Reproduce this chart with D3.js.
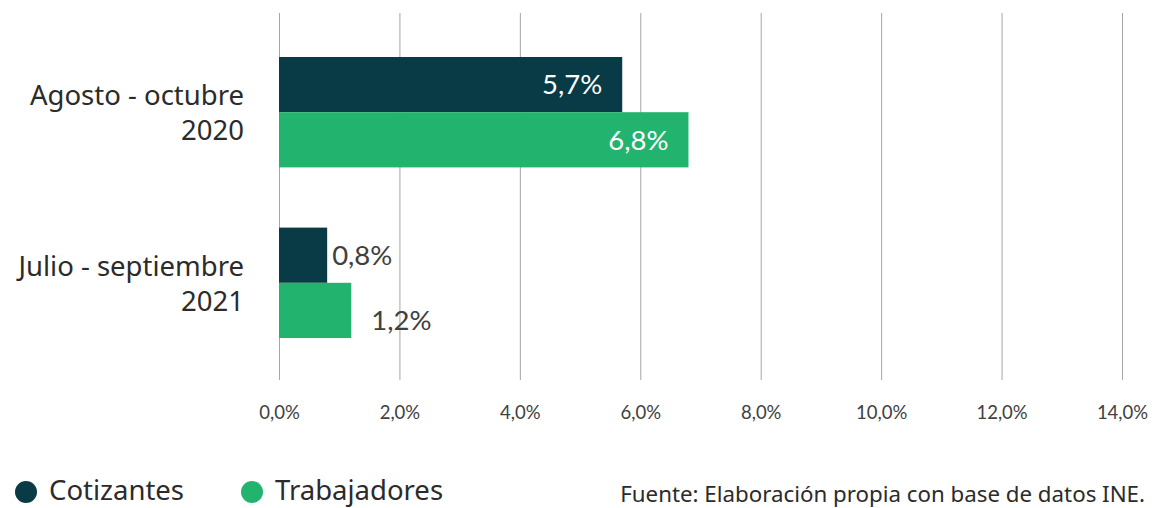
<!DOCTYPE html>
<html>
<head>
<meta charset="utf-8">
<script src="https://cdn.jsdelivr.net/npm/d3@7"></script>
<style>
  body { margin: 0; background: #fff; }
  svg { display: block; }
</style>
</head>
<body>
<div id="chart"></div>
<script>
const periods = [["Agosto - octubre", "2020"], ["Julio - septiembre", "2021"]];
const seriesNames = ["Cotizantes", "Trabajadores"];
const cotizantes = [5.7, 0.8];
const trabajadores = [6.8, 1.2];
const xTicks = [0, 2, 4, 6, 8, 10, 12, 14];
const colors = ["#083B45", "#22B46E"];

const width = 1155, height = 508;
const svg = d3.select("#chart").append("svg")
    .attr("width", width).attr("height", height);

const x = d3.scaleLinear().domain([0, 14]).range([279, 1122]);
const yGroup = d3.scaleBand().domain(d3.range(periods.length)).range([57, 338]).paddingInner(60 / 170).paddingOuter(0);
const ySub = d3.scaleBand().domain([0, 1]).range([0, yGroup.bandwidth()]);

const fmt = v => d3.format(".1f")(v).replace(".", ",") + "%";
const sans = "'Noto Sans', sans-serif";

// grid
svg.append("g").selectAll("line").data(xTicks).enter().append("line")
    .attr("x1", d => x(d) + 0.5).attr("x2", d => x(d) + 0.5)
    .attr("y1", 13).attr("y2", 380)
    .attr("stroke", "#a6a6a6").attr("stroke-width", 1);

// tick labels
const xAxis = d3.axisBottom(x).tickValues(xTicks).tickFormat(fmt).tickSize(0).tickPadding(0);
const ax = svg.append("g").attr("transform", "translate(0,406)").call(xAxis);
ax.select(".domain").remove();
ax.selectAll("text").attr("font-family", "Lato, sans-serif").attr("font-size", 18.5)
    .attr("fill", "#404040").attr("dy", "0.71em");

const series = [cotizantes, trabajadores];

series.forEach((vals, s) => {
    const g = svg.append("g");
    g.selectAll("rect").data(vals).enter().append("rect")
        .attr("x", x(0))
        .attr("y", (d, i) => yGroup(i) + ySub(s))
        .attr("width", d => x(d) - x(0))
        .attr("height", ySub.bandwidth())
        .attr("fill", colors[s]);

    g.selectAll("text").data(vals).enter().append("text")
        .attr("font-family", "Lato, sans-serif").attr("font-size", 27.5)
        .attr("x", (d, i) => i === 0 ? x(d) - 20 : x(d) + (s === 0 ? 5 : 20))
        .attr("y", (d, i) => yGroup(i) + ySub(s) + ySub.bandwidth() / 2 + (i === 1 && s === 1 ? 10 : 0))
        .attr("dy", "0.36em")
        .attr("text-anchor", (d, i) => i === 0 ? "end" : "start")
        .attr("fill", (d, i) => i === 0 ? "#ffffff" : "#404040")
        .text(d => fmt(d));
});

// category labels
const cat = svg.append("g");
periods.forEach((p, i) => {
    const cy = yGroup(i) + yGroup.bandwidth() / 2;
    p.forEach((line, j) => {
        cat.append("text")
            .attr("x", 244).attr("y", cy + (j === 0 ? -17 : 18))
            .attr("dy", "0.36em")
            .attr("text-anchor", "end")
            .attr("font-family", sans).attr("font-size", 27.5)
            .attr("fill", "#2b2b2b")
            .text(line);
    });
});

// legend
const legendX = [26, 252];
const leg = svg.append("g");
seriesNames.forEach((n, i) => {
    leg.append("circle").attr("cx", legendX[i]).attr("cy", 492).attr("r", 11).attr("fill", colors[i]);
    leg.append("text").attr("x", legendX[i] + 23).attr("y", 490).attr("dy", "0.36em")
        .attr("font-family", sans).attr("font-size", 27.5)
        .attr("fill", "#2b2b2b").text(n);
});

svg.append("text").attr("x", 1145).attr("y", 494).attr("dy", "0.36em")
    .attr("text-anchor", "end")
    .attr("font-family", sans).attr("font-size", 22.3)
    .attr("fill", "#2b2b2b").text("Fuente: Elaboración propia con base de datos INE.");
</script>
</body>
</html>
